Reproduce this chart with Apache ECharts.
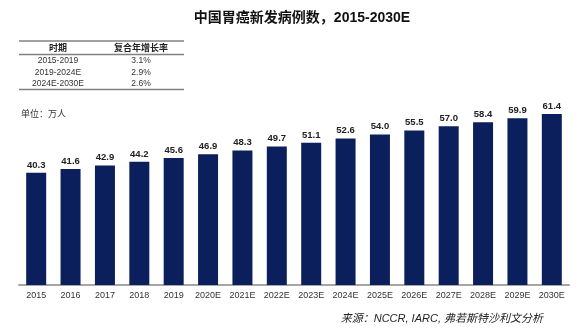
<!DOCTYPE html>
<html>
<head>
<meta charset="utf-8">
<script src="https://cdn.jsdelivr.net/npm/echarts@6/dist/echarts.min.js"></script>
<style>
  html, body { margin: 0; padding: 0; background: #fff; }
  #chart { width: 576px; height: 335px; }
</style>
</head>
<body>
<div id="chart"></div>
<script>
// New gastric cancer cases in China (10k people)
const years = ['2015', '2016', '2017', '2018', '2019', '2020E', '2021E', '2022E',
  '2023E', '2024E', '2025E', '2026E', '2027E', '2028E', '2029E', '2030E'];
const cases = [40.3, 41.6, 42.9, 44.2, 45.6, 46.9, 48.3, 49.7,
  51.1, 52.6, 54.0, 55.5, 57.0, 58.4, 59.9, 61.4];

// CAGR summary table
const tableHeader = ['时期', '复合年增长率'];
const periods = ['2015-2019', '2019-2024E', '2024E-2030E'];
const cagr = ['3.1%', '2.9%', '2.6%'];

const font = 'Arial, "Liberation Sans", "Noto Sans CJK SC", sans-serif';
const chart = echarts.init(document.getElementById('chart'));

// table graphics
const col1 = 58, col2 = 141, tLeft = 19, tRight = 184;
const rowY = [61, 72.5, 84];
const graphic = [
  { type: 'line', shape: { x1: tLeft, y1: 41, x2: tRight, y2: 41 }, style: { stroke: '#808080', lineWidth: 1.5 } },
  { type: 'line', shape: { x1: tLeft, y1: 54.5, x2: tRight, y2: 54.5 }, style: { stroke: '#808080', lineWidth: 1.5 } },
  { type: 'line', shape: { x1: tLeft, y1: 89.5, x2: tRight, y2: 89.5 }, style: { stroke: '#808080', lineWidth: 1.5 } },
  { type: 'text', x: col1, y: 48.5, style: { text: tableHeader[0], fill: '#222', font: 'bold 9px ' + font, textAlign: 'center', textVerticalAlign: 'middle' } },
  { type: 'text', x: col2, y: 48.5, style: { text: tableHeader[1], fill: '#222', font: 'bold 9px ' + font, textAlign: 'center', textVerticalAlign: 'middle' } },
  { type: 'text', x: 21, y: 115, style: { text: '单位：万人', fill: '#333', font: '9px ' + font, textVerticalAlign: 'middle' } },
  { type: 'text', right: 33, top: 313, style: { text: '来源：NCCR, IARC, 弗若斯特沙利文分析', fill: '#222', font: 'italic 11px ' + font } }
];
periods.forEach((p, i) => {
  graphic.push({ type: 'text', x: col1, y: rowY[i], style: { text: p, fill: '#333', font: '8.5px ' + font, textAlign: 'center', textVerticalAlign: 'middle' } });
  graphic.push({ type: 'text', x: col2, y: rowY[i], style: { text: cagr[i], fill: '#333', font: '8.5px ' + font, textAlign: 'center', textVerticalAlign: 'middle' } });
});

chart.setOption({
  animation: false,
  backgroundColor: '#fff',
  title: {
    text: '中国胃癌新发病例数，2015-2030E',
    left: 297, top: 6, textAlign: 'center',
    textStyle: { fontSize: 14, fontWeight: 'bold', color: '#111', fontFamily: font }
  },
  grid: { left: 19, right: 7, top: 90, bottom: 50 },
  xAxis: {
    type: 'category',
    data: years,
    axisLine: { lineStyle: { color: '#a6a6a6', width: 2 } },
    axisTick: { show: false },
    axisLabel: { color: '#333', fontSize: 9, margin: 6, fontFamily: font, interval: 0 }
  },
  yAxis: {
    type: 'value', min: 0, max: 70,
    show: false,
    splitLine: { show: false }
  },
  series: [{
    type: 'bar',
    data: cases,
    barWidth: 20,
    itemStyle: { color: '#0b1f5c' },
    label: {
      show: true, position: 'top', distance: 3,
      color: '#222', fontSize: 9.5, fontWeight: 'bold', fontFamily: font,
      formatter: p => p.value.toFixed(1)
    }
  }],
  graphic: graphic
});
</script>
</body>
</html>
